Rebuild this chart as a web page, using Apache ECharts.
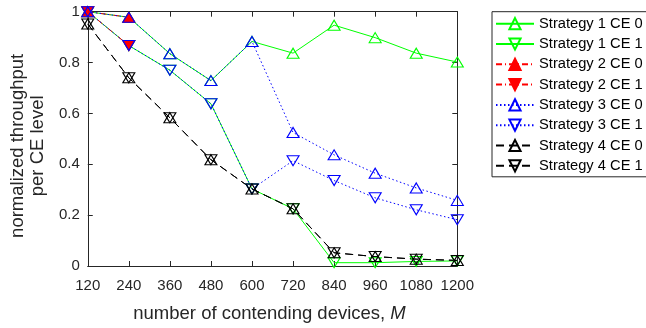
<!DOCTYPE html>
<html>
<head>
<meta charset="utf-8">
<script src="https://cdn.jsdelivr.net/npm/echarts@6/dist/echarts.min.js"></script>
<style>html,body{margin:0;padding:0;background:#fff}#c{width:646px;height:328px}</style>
</head>
<body>
<div id="c"></div>
<script>
const devices = [120, 240, 360, 480, 600, 720, 840, 960, 1080, 1200];
const xTicks = [120, 240, 360, 480, 600, 720, 840, 960, 1080, 1200];
const yTicks = [0, 0.2, 0.4, 0.6, 0.8, 1];
const s1ce0 = [1.0, 0.978, 0.835, 0.729, 0.883, 0.837, 0.947, 0.898, 0.837, 0.802];
const s1ce1 = [1.0, 0.867, 0.770, 0.638, 0.303, 0.225, 0.013, 0.013, 0.018, 0.020];
const s2ce0 = [1.0, 0.978];
const s2ce1 = [1.0, 0.867];
const s3ce0 = [1.0, 0.978, 0.835, 0.729, 0.883, 0.525, 0.437, 0.365, 0.307, 0.258];
const s3ce1 = [1.0, 0.867, 0.770, 0.638, 0.303, 0.414, 0.336, 0.268, 0.221, 0.182];
const s4ce0 = [0.952, 0.740, 0.583, 0.418, 0.303, 0.225, 0.052, 0.037, 0.027, 0.022];
const s4ce1 = [0.952, 0.740, 0.583, 0.418, 0.303, 0.225, 0.052, 0.037, 0.027, 0.022];
const names = ['Strategy 1 CE 0','Strategy 1 CE 1','Strategy 2 CE 0','Strategy 2 CE 1','Strategy 3 CE 0','Strategy 3 CE 1','Strategy 4 CE 0','Strategy 4 CE 1'];

const FONT = 'Liberation Sans, Arial, sans-serif';
const AX = '#262626';
function pts(vals){ return vals.map((v,i)=>[devices[i], v]); }
function mk(name, vals, color, dash, down, filled){
  return {
    name: name, type: 'line', data: pts(vals),
    symbol: 'triangle', symbolSize: [12, 10], symbolRotate: down ? 180 : 0,
    showAllSymbol: true, animation: false,
    lineStyle: {color: color, width: 1, type: dash},
    itemStyle: {color: filled ? color : 'rgba(0,0,0,0)', borderColor: color, borderWidth: 1.1},
    emphasis: {disabled: true}
  };
}
const chart = echarts.init(document.getElementById('c'), null, {renderer: 'canvas'});
const grid = {left: 85.7, right: 188.7, top: 11.7, bottom: 60.3};
chart.setOption({
  animation: false,
  backgroundColor: '#fff',
  textStyle: {fontFamily: FONT},
  grid: grid,
  legend: {
    orient: 'vertical', left: 492, top: 11.7, itemWidth: 38, itemHeight: 14, itemGap: 5.3,
    padding: [4.5, 8, 3.5, 3], borderColor: AX, borderWidth: 1, backgroundColor: '#fff',
    textStyle: {fontFamily: FONT, fontSize: 14.7, color: '#000'},
    data: names
  },
  xAxis: [{
    type: 'value', min: 120, max: 1200, interval: 120,
    name: 'number of contending devices, {i|M}', nameLocation: 'middle', nameGap: 38,
    nameTextStyle: {fontFamily: FONT, fontSize: 18.5, color: AX, padding: [0, 6, 0, 0], rich: {i: {fontStyle: 'italic', fontSize: 18.5, color: AX, fontFamily: FONT}}},
    axisLine: {show: true, lineStyle: {color: AX, width: 1}},
    axisTick: {show: true, inside: true, length: 5, lineStyle: {color: AX}},
    axisLabel: {fontFamily: FONT, fontSize: 15, color: AX, margin: 12, formatter: v => String(v)},
    splitLine: {show: false}
  }, {
    type: 'value', position: 'top', min: 120, max: 1200, interval: 120,
    axisLine: {show: true, onZero: false, lineStyle: {color: AX, width: 1}},
    axisTick: {show: true, inside: true, length: 5, lineStyle: {color: AX}},
    axisLabel: {show: false}, splitLine: {show: false}
  }],
  yAxis: [{
    type: 'value', min: 0, max: 1, interval: 0.2,
    name: 'normalized throughput\nper CE level', nameLocation: 'middle', nameGap: 36, nameRotate: 90,
    nameTextStyle: {fontFamily: FONT, fontSize: 18.5, color: AX, lineHeight: 20, padding: [0, 14, 0, 0]},
    axisLine: {show: true, lineStyle: {color: AX, width: 1}},
    axisTick: {show: true, inside: true, length: 5, lineStyle: {color: AX}},
    axisLabel: {fontFamily: FONT, fontSize: 15, color: AX, margin: 8,
      formatter: v => String(Math.round(v*10)/10)},
    splitLine: {show: false}
  }, {
    type: 'value', position: 'right', min: 0, max: 1, interval: 0.2,
    axisLine: {show: true, onZero: false, lineStyle: {color: AX, width: 1}},
    axisTick: {show: true, inside: true, length: 5, lineStyle: {color: AX}},
    axisLabel: {show: false}, splitLine: {show: false}
  }],
  series: [
    mk(names[0], s1ce0, '#00ff00', 'solid', false, false),
    mk(names[1], s1ce1, '#00ff00', 'solid', true, false),
    mk(names[2], s2ce0, '#ff0000', [6,3,1,3], false, true),
    mk(names[3], s2ce1, '#ff0000', [6,3,1,3], true, true),
    mk(names[4], s3ce0, '#0000ff', [1.5,2.5], false, false),
    mk(names[5], s3ce1, '#0000ff', [1.5,2.5], true, false),
    mk(names[6], s4ce0, '#000000', [8,5], false, false),
    mk(names[7], s4ce1, '#000000', [8,5], true, false)
  ]
});
</script>
</body>
</html>
